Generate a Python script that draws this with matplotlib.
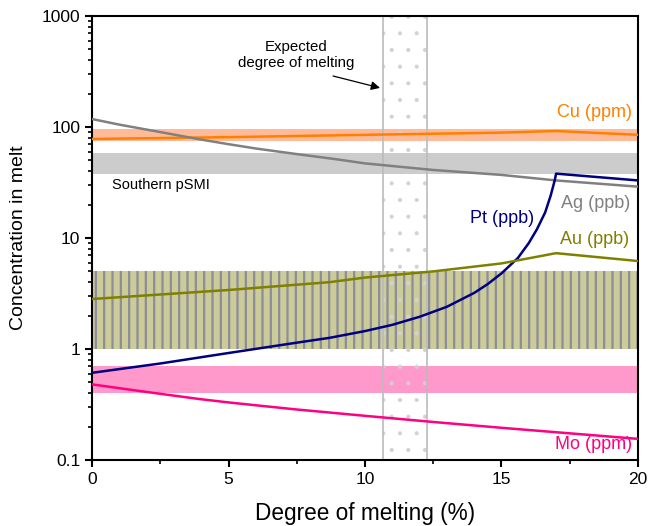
import numpy as np
import matplotlib as mpl
import matplotlib.pyplot as plt
from matplotlib.ticker import LogLocator, FixedLocator, NullFormatter

plt.rcParams['font.family'] = ['Liberation Sans', 'DejaVu Sans']
plt.rcParams['hatch.linewidth'] = 1.6

# model curves (melt fraction %, concentration)
cu_x = [0, 5, 10, 15, 17, 20]
cu_y = [78, 81, 85, 89, 92, 85]
ag_x = [0, 1, 2.5, 4, 5, 6, 7.5, 9, 10, 12.5, 15, 17, 20]
ag_y = [118, 105, 90, 77, 70, 64, 57, 51, 47, 41, 37, 33, 29]
pt_x = [0, 2.5, 5, 7.5, 8.7, 10, 11, 12, 13, 14, 14.5, 15, 15.6, 16, 16.3, 16.6, 16.8, 16.95, 17, 20]
pt_y = [0.61, 0.74, 0.92, 1.14, 1.26, 1.45, 1.65, 1.95, 2.4, 3.2, 3.85, 4.8, 6.6, 9.0, 12, 17, 24, 33, 38, 33]
au_x = [0, 5, 8.7, 10, 12.5, 15, 17, 20]
au_y = [2.82, 3.4, 4.0, 4.4, 5.0, 5.9, 7.3, 6.2]
mo_x = [0, 2, 3.9, 5, 7.5, 10, 12.5, 15, 20]
mo_y = [0.48, 0.41, 0.355, 0.33, 0.285, 0.25, 0.22, 0.195, 0.155]

# Southern pSMI ranges
cu_band = (75, 95)
ag_band = (38, 58)
au_band = (1, 5)
mo_band = (0.4, 0.7)
expected = (10.66, 12.27)

fig = plt.figure(figsize=(6.49, 5.26), dpi=100)
ax = fig.add_axes([0.1418, 0.1255, 0.8412, 0.8441])

ax.axhspan(*cu_band, color='#ffbb99', lw=0, zorder=1)
ax.axhspan(*ag_band, color='#cccccc', lw=0, zorder=1)
ax.axhspan(*au_band, facecolor='#cccc99', edgecolor='#8c8c9c', hatch='||', lw=0, zorder=1)
ax.axhspan(*mo_band, color='#ff99cc', lw=0, zorder=1)

with mpl.rc_context({'hatch.linewidth': 0.5}):
    dots = ax.axvspan(*expected, facecolor='none', edgecolor='#d2d2d2', hatch='.', lw=0, zorder=2)
    if hasattr(dots, 'set_hatch_linewidth'):
        dots.set_hatch_linewidth(0.5)
for xv in expected:
    ax.axvline(xv, color='#bbbbbb', lw=1.2, zorder=2)

ax.plot(cu_x, cu_y, color='#ff8000', lw=1.8, zorder=3)
ax.plot(ag_x, ag_y, color='#808080', lw=1.8, zorder=3)
ax.plot(pt_x, pt_y, color='#000080', lw=1.8, zorder=3)
ax.plot(au_x, au_y, color='#808000', lw=1.8, zorder=3)
ax.plot(mo_x, mo_y, color='#ff0080', lw=1.8, zorder=3)

fs = 13
ax.text(19.78, 136, 'Cu (ppm)', color='#ff8000', fontsize=fs, ha='right', va='center')
ax.text(19.7, 20.5, 'Ag (ppb)', color='#808080', fontsize=fs, ha='right', va='center')
ax.text(16.2, 15.1, 'Pt (ppb)', color='#000080', fontsize=fs, ha='right', va='center')
ax.text(19.66, 9.6, 'Au (ppb)', color='#808000', fontsize=fs, ha='right', va='center')
ax.text(19.78, 0.139, 'Mo (ppm)', color='#ff0080', fontsize=fs, ha='right', va='center')
ax.text(0.73, 30, 'Southern pSMI', fontsize=10.5, ha='left', va='center')
ax.text(7.47, 445, 'Expected\ndegree of melting', fontsize=10.8, ha='center', va='center',
        linespacing=1.25)
ax.annotate('', xy=(10.55, 225), xytext=(8.83, 288),
            arrowprops=dict(arrowstyle='-|>', color='black', lw=0.9, shrinkA=0, shrinkB=0,
                            mutation_scale=13))

ax.set_yscale('log')
ax.set_xlim(0, 20)
ax.set_ylim(0.1, 1000)
ax.xaxis.set_major_locator(FixedLocator([0, 5, 10, 15, 20]))
ax.xaxis.set_minor_locator(FixedLocator([2.5, 7.5, 12.5, 17.5]))
ax.yaxis.set_minor_locator(LogLocator(base=10, subs=np.arange(2, 10), numticks=20))
ax.yaxis.set_minor_formatter(NullFormatter())
ax.set_yticks([0.1, 1, 10, 100, 1000])
ax.set_yticklabels(['0.1', '1', '10', '100', '1000'])

for s in ax.spines.values():
    s.set_linewidth(1.5)
ax.tick_params(which='major', direction='out', length=5, width=1.5, labelsize=12.5)
ax.tick_params(which='minor', direction='out', length=3, width=1.2)

ax.set_ylabel('Concentration in melt', fontsize=14)
ax.set_xlabel('Degree of melting (%)', fontsize=16.3)
ax.yaxis.set_label_coords(-0.119, 0.5)
ax.xaxis.set_label_coords(0.5, -0.095)

fig.savefig('out.png', dpi=100)
